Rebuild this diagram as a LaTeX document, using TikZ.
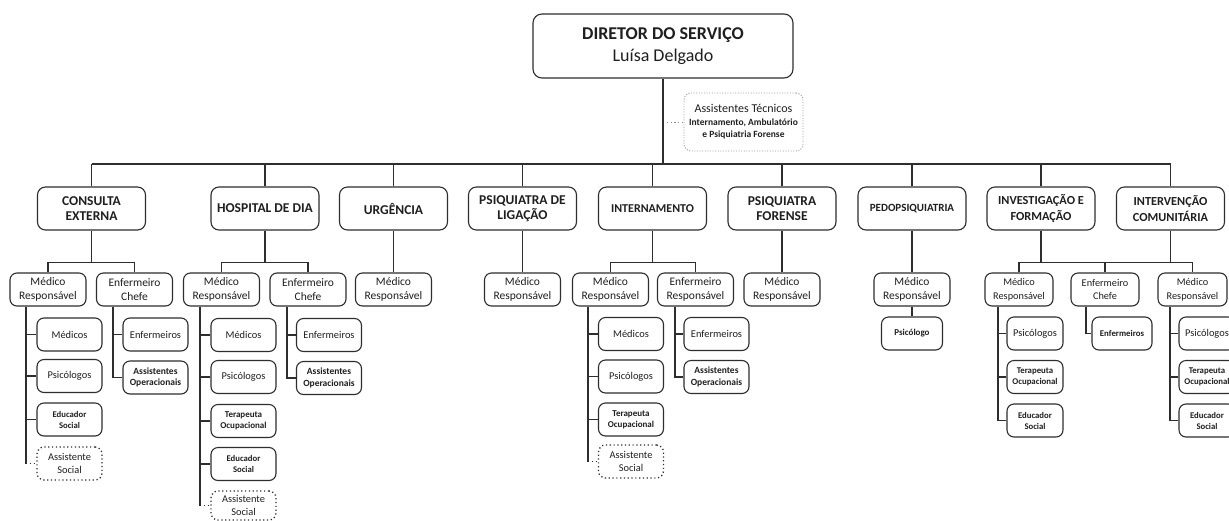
\documentclass[tikz,border=0pt]{standalone}
\usepackage{fontspec}
\setmainfont{Carlito}
\newcommand\fs[2]{\fontsize{#1}{#2}\selectfont}
\tikzset{
 conn/.style={draw=black!82, line width=1.1pt},
 dconn/.style={conn, dash pattern=on 1.2pt off 2.6pt},
 bx/.style={draw=black!82, line width=1.1pt, rounded corners=7pt, align=center, inner sep=1pt, text=black!88},
 mainb/.style={bx, rounded corners=8pt, minimum width=108pt, minimum height=43pt, font={\fs{13.5}{15.5}\bfseries}},
 subb/.style={bx, minimum width=76pt, minimum height=33pt, font={\fs{11.5}{14}}},
 kidb/.style={bx, minimum width=65pt, minimum height=33pt, font={\fs{10.4}{12.5}}},
 smallb/.style={font={\fs{9}{11}\bfseries}},
 dotb/.style={kidb, dash pattern=on 1.2pt off 2.6pt, line width=1.3pt},
}
\begin{document}
\begin{tikzpicture}[x=1pt,y=-1pt]
\useasboundingbox (0,0) rectangle (1229,520);
\clip (0,0) rectangle (1229,520);
\fill[white] (0,0) rectangle (1229,520);

% director
\node[bx, rounded corners=9pt, minimum width=260pt, minimum height=64pt, font={\fs{18}{21.6}}] (dir) at (663,46) {\textbf{DIRETOR DO SERVIÇO}\\Luísa Delgado};
\node[bx, draw=black!40, line width=0.9pt, dash pattern=on 1pt off 1.6pt, rounded corners=7pt, minimum width=119pt, minimum height=58pt, font={\fs{9.5}{12.4}\bfseries}] (at) at (743.5,122) {{\fs{12}{14}\mdseries Assistentes Técnicos}\\Internamento, Ambulatório\\e Psiquiatria Forense};
\coordinate (atj) at (dir.south |- at.west);
\draw[dconn, draw=black!45, line width=0.9pt] (atj) -- (at.west);

% main level
\node[mainb] (consulta) at (91.5,208.5) {CONSULTA\\EXTERNA};
\node[mainb] (hospital) at (265,208.5) {HOSPITAL DE DIA};
\node[mainb] (urgencia) at (393.5,208.5) {URGÊNCIA};
\node[mainb] (ligacao) at (522.5,208.5) {PSIQUIATRA DE\\LIGAÇÃO};
\node[mainb, font={\fs{12}{15}\bfseries}] (internamento) at (652.5,208.5) {INTERNAMENTO};
\node[mainb] (forense) at (782,208.5) {PSIQUIATRA\\FORENSE};
\node[mainb, font={\fs{11}{14}\bfseries}] (pedo) at (912,208.5) {PEDOPSIQUIATRIA};
\node[mainb, font={\fs{12.3}{15.5}\bfseries}] (investigacao) at (1041,208.5) {INVESTIGAÇÃO E\\FORMAÇÃO};
\node[mainb, font={\fs{12.3}{15.5}\bfseries}] (intervencao) at (1170.5,208.5) {INTERVENÇÃO\\COMUNITÁRIA};

\coordinate (bus) at (0,164);
\draw[conn] (consulta.north |- bus) -- (intervencao.north |- bus);
\draw[conn] (dir.south) -- (dir.south |- bus);
\foreach \n in {consulta,hospital,urgencia,ligacao,internamento,forense,pedo,investigacao,intervencao}
  \draw[conn] (\n.north) -- (\n.north |- bus);

% second level
\node[subb] (m1) at (48,289.5) {Médico\\Responsável};
\node[subb] (e1) at (134.5,289.5) {Enfermeiro\\Chefe};
\node[subb] (m2) at (221.5,289.5) {Médico\\Responsável};
\node[subb] (e2) at (308,289.5) {Enfermeiro\\Chefe};
\node[subb] (m3) at (393.5,289.5) {Médico\\Responsável};
\node[subb] (m4) at (522.5,289.5) {Médico\\Responsável};
\node[subb] (m5) at (610.5,289.5) {Médico\\Responsável};
\node[subb] (e5) at (695.5,289.5) {Enfermeiro\\Responsável};
\node[subb] (m6) at (782,289.5) {Médico\\Responsável};
\node[subb] (m7) at (912,289.5) {Médico\\Responsável};
\node[subb, minimum width=68pt, font={\fs{10.3}{13.5}}] (m8) at (1019,289.5) {Médico\\Responsável};
\node[subb, minimum width=68pt, font={\fs{10.3}{13.5}}] (e8) at (1105,289.5) {Enfermeiro\\Chefe};
\node[subb, minimum width=69pt, font={\fs{10.3}{13.5}}] (m9) at (1192.5,289.5) {Médico\\Responsável};

\coordinate (sb) at (0,262.5);
\foreach \n in {consulta,hospital,internamento,investigacao,intervencao}
  \draw[conn] (\n.south) -- (\n.south |- sb);
\draw[conn] (m1.north) -- (m1.north |- sb) -- (e1.north |- sb) -- (e1.north);
\draw[conn] (m2.north) -- (m2.north |- sb) -- (e2.north |- sb) -- (e2.north);
\draw[conn] (m5.north) -- (m5.north |- sb) -- (e5.north |- sb) -- (e5.north);
\draw[conn] (m8.north) -- (m8.north |- sb) -- (m9.north |- sb) -- (m9.north);
\draw[conn] (e8.north) -- (e8.north |- sb);
\draw[conn] (urgencia.south) -- (m3.north);
\draw[conn] (ligacao.south) -- (m4.north);
\draw[conn] (forense.south) -- (m6.north);
\draw[conn] (pedo.south) -- (m7.north);

% consulta externa children
\node[kidb] (k11) at (69.5,334.5) {Médicos};
\node[kidb] (k12) at (69.5,376) {Psicólogos};
\node[kidb, font={\fs{8.7}{11}\bfseries}] (k13) at (69.5,419.5) {Educador\\Social};
\node[dotb] (k14) at (69.5,463.5) {Assistente\\Social};
\coordinate (v1) at (26,0);
\draw[conn] (v1 |- m1.south) -- (v1 |- k14.west);
\foreach \k in {k11,k12,k13} \draw[conn] (v1 |- \k.west) -- (\k.west);
\draw[dconn] (v1 |- k14.west) -- (k14.west);

\node[kidb] (k15) at (155.5,334.5) {Enfermeiros};
\node[kidb, font={\fs{9.5}{11.5}\bfseries}] (k16) at (155.5,377.5) {Assistentes\\Operacionais};
\coordinate (v2) at (113,0);
\draw[conn] (v2 |- e1.south) |- (k16.west);
\draw[conn] (v2 |- k15.west) -- (k15.west);

% hospital de dia children
\node[kidb] (k21) at (243.5,335) {Médicos};
\node[kidb] (k22) at (243.5,377) {Psicólogos};
\node[kidb, font={\fs{9}{11}\bfseries}] (k23) at (243.5,421) {Terapeuta\\Ocupacional};
\node[kidb, font={\fs{8.7}{11}\bfseries}] (k24) at (243.5,464) {Educador\\Social};
\node[dotb, minimum height=29pt] (k25) at (243.5,505.5) {Assistente\\Social};
\coordinate (v3) at (200,0);
\draw[conn] (v3 |- m2.south) -- (v3 |- k25.west);
\foreach \k in {k21,k22,k23,k24} \draw[conn] (v3 |- \k.west) -- (\k.west);
\draw[dconn] (v3 |- k25.west) -- (k25.west);

\node[kidb] (k26) at (329,335) {Enfermeiros};
\node[kidb, font={\fs{9.5}{11.5}\bfseries}] (k27) at (329,378) {Assistentes\\Operacionais};
\coordinate (v4) at (287,0);
\draw[conn] (v4 |- e2.south) |- (k27.west);
\draw[conn] (v4 |- k26.west) -- (k26.west);

% internamento children
\node[kidb] (k51) at (631,334) {Médicos};
\node[kidb] (k52) at (631,376.5) {Psicólogos};
\node[kidb, font={\fs{9}{11}\bfseries}] (k53) at (631,419.5) {Terapeuta\\Ocupacional};
\node[dotb] (k54) at (631,461.5) {Assistente\\Social};
\coordinate (v5) at (588,0);
\draw[conn] (v5 |- m5.south) -- (v5 |- k54.west);
\foreach \k in {k51,k52,k53} \draw[conn] (v5 |- \k.west) -- (\k.west);
\draw[dconn] (v5 |- k54.west) -- (k54.west);

\node[kidb] (k55) at (716.5,334) {Enfermeiros};
\node[kidb, font={\fs{9.5}{11.5}\bfseries}] (k56) at (716.5,377) {Assistentes\\Operacionais};
\coordinate (v6) at (675,0);
\draw[conn] (v6 |- e5.south) |- (k56.west);
\draw[conn] (v6 |- k55.west) -- (k55.west);

% pedopsiquiatria child
\node[kidb, minimum width=61pt, font={\fs{9}{11}\bfseries}] (k71) at (912,333.5) {Psicólogo};
\draw[conn] (m7.south) -- (k71.north);

% investigacao children
\node[kidb, minimum width=56pt] (k81) at (1035,333.5) {Psicólogos};
\node[kidb, minimum width=56pt, font={\fs{8.8}{11}\bfseries}] (k82) at (1035,377) {Terapeuta\\Ocupacional};
\node[kidb, minimum width=56pt, font={\fs{8.7}{11}\bfseries}] (k83) at (1035,420.5) {Educador\\Social};
\coordinate (v8) at (998,0);
\draw[conn] (v8 |- m8.south) |- (k83.west);
\foreach \k in {k81,k82} \draw[conn] (v8 |- \k.west) -- (\k.west);

\node[kidb, minimum width=60pt, font={\fs{8.8}{11}\bfseries}] (k84) at (1122,333.5) {Enfermeiros};
\coordinate (v84) at (1086,0);
\draw[conn] (v84 |- e8.south) |- (k84.west);

% intervencao children
\node[kidb, minimum width=56pt] (k91) at (1207,333.5) {Psicólogos};
\node[kidb, minimum width=56pt, font={\fs{8.8}{11}\bfseries}] (k92) at (1207,377) {Terapeuta\\Ocupacional};
\node[kidb, minimum width=56pt, font={\fs{8.7}{11}\bfseries}] (k93) at (1207,420.5) {Educador\\Social};
\coordinate (v9) at (1170,0);
\draw[conn] (v9 |- m9.south) |- (k93.west);
\foreach \k in {k91,k92} \draw[conn] (v9 |- \k.west) -- (\k.west);
\end{tikzpicture}
\end{document}
